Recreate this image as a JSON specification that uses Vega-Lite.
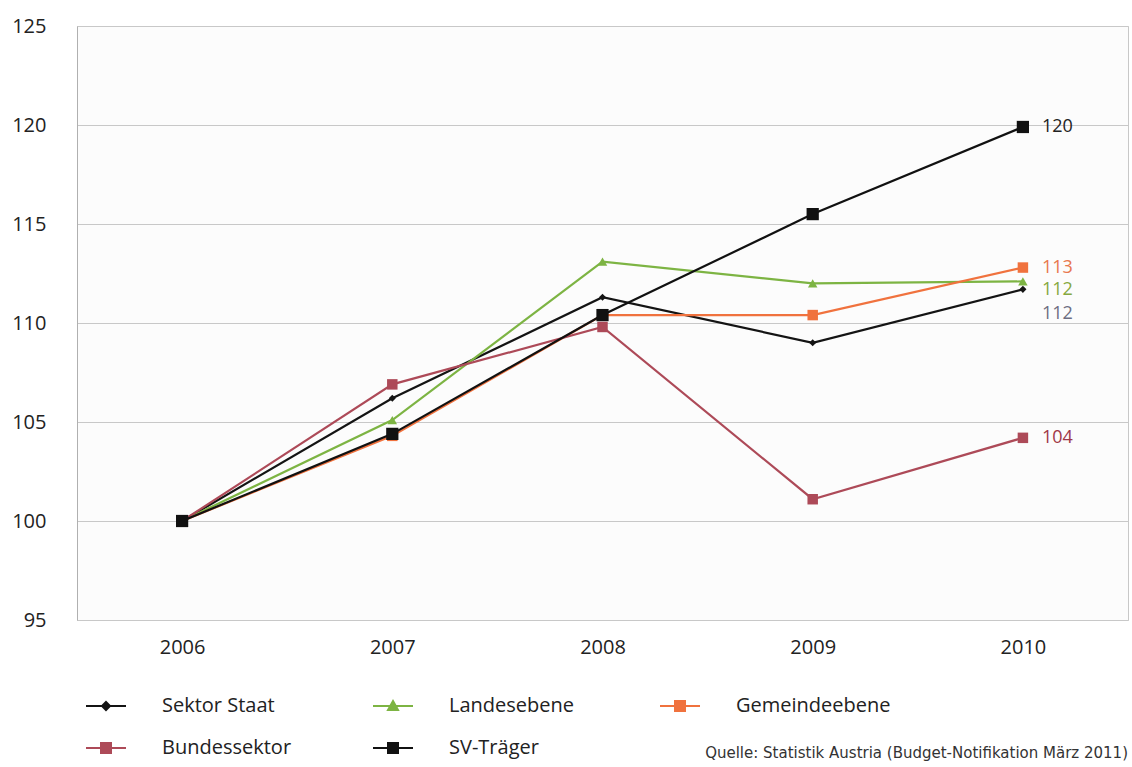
{
  "$schema": "https://vega.github.io/schema/vega-lite/v6.json",
  "autosize": {"type": "none"},
  "width": 1051,
  "height": 594,
  "padding": {"left": 77, "top": 26, "right": 4, "bottom": 147},
  "background": "white",
  "config": {
    "font": "Open Sans",
    "view": {"stroke": "#c8c8c8", "strokeWidth": 1, "fill": "#fcfcfc"},
    "axis": {"labelFont": "Open Sans", "labelFontSize": 20, "labelColor": "#222", "ticks": false, "title": null}
  },
  "title": {
    "text": "Quelle: Statistik Austria (Budget-Notifikation März 2011)",
    "orient": "bottom",
    "anchor": "end",
    "fontSize": 15,
    "fontWeight": "normal",
    "color": "#333",
    "font": "DejaVu Sans",
    "offset": -12
  },
  "data": {
    "values": [
      {"series": "Sektor Staat", "year": "2006", "value": 100.0},
      {"series": "Sektor Staat", "year": "2007", "value": 106.2},
      {"series": "Sektor Staat", "year": "2008", "value": 111.3},
      {"series": "Sektor Staat", "year": "2009", "value": 109.0},
      {"series": "Sektor Staat", "year": "2010", "value": 111.7},
      {"series": "Landesebene", "year": "2006", "value": 100.0},
      {"series": "Landesebene", "year": "2007", "value": 105.1},
      {"series": "Landesebene", "year": "2008", "value": 113.1},
      {"series": "Landesebene", "year": "2009", "value": 112.0},
      {"series": "Landesebene", "year": "2010", "value": 112.1},
      {"series": "Gemeindeebene", "year": "2006", "value": 100.0},
      {"series": "Gemeindeebene", "year": "2007", "value": 104.3},
      {"series": "Gemeindeebene", "year": "2008", "value": 110.4},
      {"series": "Gemeindeebene", "year": "2009", "value": 110.4},
      {"series": "Gemeindeebene", "year": "2010", "value": 112.8},
      {"series": "Bundessektor", "year": "2006", "value": 100.0},
      {"series": "Bundessektor", "year": "2007", "value": 106.9},
      {"series": "Bundessektor", "year": "2008", "value": 109.8},
      {"series": "Bundessektor", "year": "2009", "value": 101.1},
      {"series": "Bundessektor", "year": "2010", "value": 104.2},
      {"series": "SV-Träger", "year": "2006", "value": 100.0},
      {"series": "SV-Träger", "year": "2007", "value": 104.4},
      {"series": "SV-Träger", "year": "2008", "value": 110.4},
      {"series": "SV-Träger", "year": "2009", "value": 115.5},
      {"series": "SV-Träger", "year": "2010", "value": 119.9}
    ]
  },
  "encoding": {
    "x": {
      "field": "year", "type": "ordinal",
      "scale": {"type": "point", "padding": 0.5},
      "axis": {"orient": "bottom", "labelAngle": 0, "labelPadding": 17, "domain": false, "grid": false}
    },
    "y": {
      "field": "value", "type": "quantitative",
      "scale": {"domain": [95, 125], "zero": false, "nice": false},
      "axis": {"values": [95, 100, 105, 110, 115, 120, 125], "labelPadding": 31, "domain": true, "domainColor": "#b0b0b0", "grid": true, "gridColor": "#c8c8c8", "gridWidth": 1}
    },
    "color": {
      "field": "series", "type": "nominal",
      "scale": {
        "domain": ["Sektor Staat", "Landesebene", "Gemeindeebene", "Bundessektor", "SV-Träger"],
        "range": ["#141414", "#7db443", "#f0723e", "#ad4a58", "#111111"]
      },
      "legend": {
        "orient": "none",
        "legendX": 8,
        "legendY": 659,
        "direction": "horizontal",
        "columns": 3,
        "gridAlign": "all",
        "columnPadding": 52,
        "rowPadding": 11,
        "padding": 0,
        "title": null,
        "symbolSize": 1600,
        "symbolStrokeWidth": 2,
        "labelFont": "Open Sans",
        "labelFontSize": 20,
        "labelColor": "#222",
        "labelOffset": 35,
        "labelLimit": 300,
        "encode": {
          "symbols": {
            "update": {
              "shape": {"signal": "datum.value === 'Sektor Staat' ? 'M-1,0H1M0,-0.2L0.2,0L0,0.2L-0.2,0Z' : datum.value === 'Landesebene' ? 'M-1,0H1M0,-0.25L0.25,0.2L-0.25,0.2Z' : 'M-1,0H1M-0.25,-0.25H0.25V0.25H-0.25Z'"},
              "fill": {"scale": "color", "field": "value"},
              "stroke": {"scale": "color", "field": "value"},
              "strokeWidth": {"value": 2},
              "size": {"value": 1600},
              "opacity": {"value": 1}
            }
          }
        }
      }
    }
  },
  "layer": [
    {"mark": {"type": "line", "strokeWidth": 2.2}},
    {
      "transform": [{"filter": "datum.series === 'Sektor Staat'"}],
      "mark": {"type": "point", "shape": "diamond", "size": 50, "filled": true, "opacity": 1}
    },
    {
      "transform": [{"filter": "datum.series === 'Landesebene'"}],
      "mark": {"type": "point", "shape": "triangle-up", "size": 90, "filled": true, "opacity": 1}
    },
    {
      "transform": [{"filter": "datum.series === 'Gemeindeebene' || datum.series === 'Bundessektor'"}],
      "mark": {"type": "point", "shape": "square", "size": 110, "filled": true, "opacity": 1}
    },
    {
      "transform": [{"filter": "datum.series === 'SV-Träger'"}],
      "mark": {"type": "point", "shape": "square", "size": 150, "filled": true, "opacity": 1}
    },
    {
      "transform": [{"filter": "datum.year === '2010' && (datum.series === 'SV-Träger' || datum.series === 'Gemeindeebene' || datum.series === 'Bundessektor')"}],
      "mark": {"type": "text", "align": "left", "baseline": "middle", "dx": 19, "fontSize": 18, "font": "Open Sans"},
      "encoding": {
        "text": {"field": "value", "type": "quantitative", "format": ".0f"},
        "color": null,
        "fill": {
          "field": "series", "type": "nominal",
          "scale": {
            "domain": ["Sektor Staat", "Landesebene", "Gemeindeebene", "Bundessektor", "SV-Träger"],
            "range": ["#6e6e82", "#86a840", "#e8784e", "#a03848", "#222222"]
          },
          "legend": null
        }
      }
    },
    {
      "transform": [{"filter": "datum.year === '2010' && datum.series === 'Landesebene'"}],
      "mark": {"type": "text", "align": "left", "baseline": "middle", "dx": 19, "dy": 9, "fontSize": 18, "font": "Open Sans"},
      "encoding": {
        "text": {"field": "value", "type": "quantitative", "format": ".0f"},
        "color": null,
        "fill": {"field": "series", "type": "nominal", "legend": null}
      }
    },
    {
      "transform": [{"filter": "datum.year === '2010' && datum.series === 'Sektor Staat'"}],
      "mark": {"type": "text", "align": "left", "baseline": "middle", "dx": 19, "dy": 25, "fontSize": 18, "font": "Open Sans"},
      "encoding": {
        "text": {"field": "value", "type": "quantitative", "format": ".0f"},
        "color": null,
        "fill": {"field": "series", "type": "nominal", "legend": null}
      }
    }
  ]
}
